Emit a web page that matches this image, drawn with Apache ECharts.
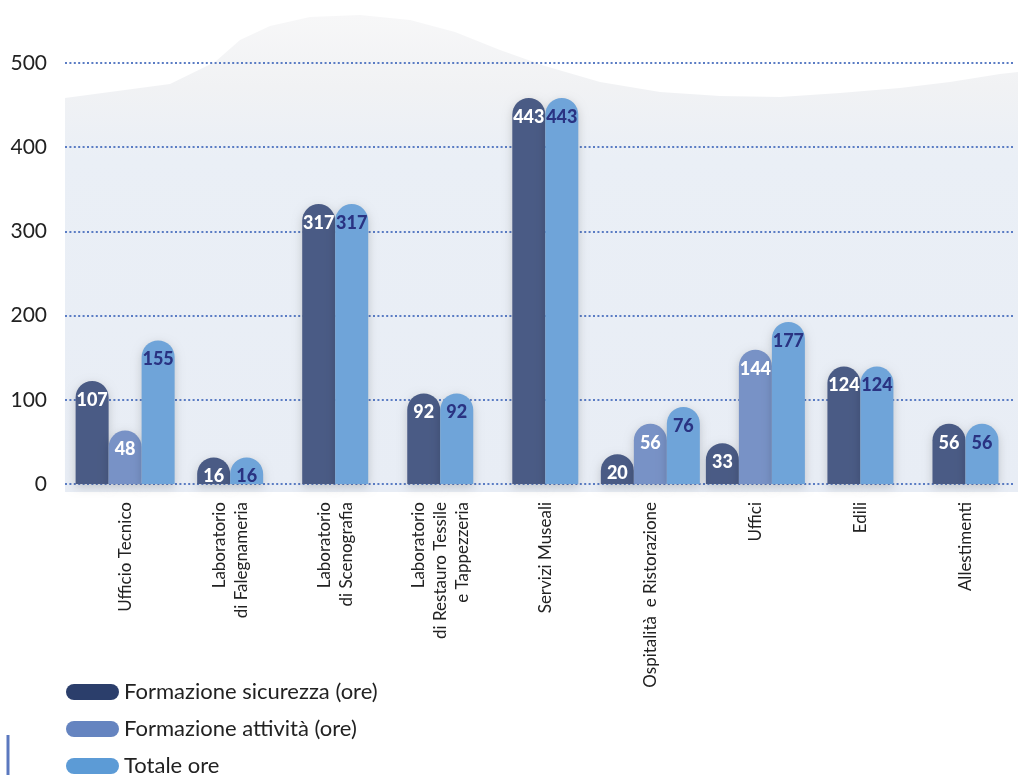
<!DOCTYPE html>
<html>
<head>
<meta charset="utf-8">
<script src="https://cdn.jsdelivr.net/npm/echarts@6/dist/echarts.min.js"></script>
<style>
  html, body { margin: 0; padding: 0; background: #fff; }
  #main { width: 1018px; height: 775px; }
</style>
</head>
<body>
<div id="main"></div>
<script>
var categories = [
  'Ufficio Tecnico',
  'Laboratorio\ndi Falegnameria',
  'Laboratorio\ndi Scenografia',
  'Laboratorio\ndi Restauro Tessile\ne Tappezzeria',
  'Servizi Museali',
  'Ospitalità  e Ristorazione',
  'Uffici',
  'Edili',
  'Allestimenti'
];
var sicurezza = [107, 16, 317, 92, 443, 20, 33, 124, 56];
var attivita = [48, null, null, null, null, 56, 144, null, null];
var totale = [155, 16, 317, 92, 443, 76, 177, 124, 56];
var yTicks = [0, 100, 200, 300, 400, 500];

var seriesNames = ['Formazione sicurezza (ore)', 'Formazione attività (ore)', 'Totale ore'];
var allValues = [sicurezza, attivita, totale];
var barColors = ['#4a5b85', '#7892c6', '#6fa4d9'];
var legendColors = ['#2b3e6b', '#6584c0', '#5c9bd6'];
var labelColors = ['#ffffff', '#ffffff', '#2a3382'];

var myChart = echarts.init(document.getElementById('main'));

// bars are drawn by hand so that groups with 2 bars stay centred
function makeRender(si) {
  return function (params, api) {
    var i = api.value(0);
    var v = api.value(1);
    var present = [];
    allValues.forEach(function (arr, k) {
      if (arr[i] != null) present.push(k);
    });
    var n = present.length;
    var pos = present.indexOf(si);
    var base = api.coord([i, 0]);
    var top = api.coord([i, v]);
    var w = 33;
    var x = base[0] - n * w / 2 + pos * w;
    var y = top[1] - 13;
    var h = base[1] - y;
    return {
      type: 'group',
      children: [{
        type: 'rect',
        shape: { x: x, y: y, width: w, height: h, r: [16.5, 16.5, 0, 0] },
        style: {
          fill: barColors[si],
          shadowBlur: 10,
          shadowColor: 'rgba(0,0,0,0.18)',
          shadowOffsetY: 3
        }
      }, {
        type: 'text',
        z2: 10,
        style: {
          text: String(v),
          x: x + w / 2,
          y: y + 19,
          align: 'center',
          verticalAlign: 'middle',
          fill: labelColors[si],
          font: '900 18px Lato'
        }
      }]
    };
  };
}

var series = seriesNames.map(function (name, si) {
  var d = [];
  allValues[si].forEach(function (v, i) {
    if (v != null) d.push([i, v]);
  });
  return {
    name: name,
    type: 'custom',
    xAxisIndex: 0,
    yAxisIndex: 0,
    itemStyle: { color: legendColors[si] },
    encode: { x: 0, y: 1 },
    renderItem: makeRender(si),
    data: d
  };
});

var pill = 'path://M8,0 L45,0 A8,8 0 0 1 45,16 L8,16 A8,8 0 0 1 8,0 Z';

var option = {
  backgroundColor: '#ffffff',
  animation: false,
  graphic: [{
    type: 'polygon',
    z: -10,
    shape: {
      points: [[65, 98], [110, 92], [170, 84], [215, 62], [240, 40], [270, 26], [310, 17],
        [360, 15], [410, 20], [455, 32], [500, 50], [545, 66], [600, 82], [660, 92],
        [720, 96], [780, 97], [840, 93], [900, 88], [950, 82], [1000, 74], [1018, 72],
        [1018, 492], [65, 492]]
    },
    style: {
      fill: new echarts.graphic.LinearGradient(0, 0, 0, 1, [
        { offset: 0, color: '#f7f7f8' },
        { offset: 0.15, color: '#f1f2f4' },
        { offset: 0.3, color: '#eaeff6' },
        { offset: 1, color: '#e8edf5' }
      ])
    }
  }, {
    type: 'line',
    shape: { x1: 8, y1: 735, x2: 8, y2: 775 },
    style: { stroke: '#5b78bf', lineWidth: 3 }
  }],
  legend: {
    orient: 'vertical',
    left: 66,
    top: 681,
    height: 120,
    padding: 0,
    itemWidth: 53,
    itemHeight: 16,
    itemGap: 15,
    icon: pill,
    textStyle: { fontFamily: 'Lato', fontSize: 22, color: '#222', lineHeight: 22 },
    data: seriesNames.map(function (n, si) {
      return { name: n, itemStyle: { color: legendColors[si] } };
    })
  },
  grid: [
    { left: 72.6, right: -15.4, top: 63, bottom: 291 },
    { left: 65, right: 3, top: 63, bottom: 291 }
  ],
  xAxis: [{
    type: 'category',
    gridIndex: 0,
    data: categories,
    axisLine: { show: false },
    axisTick: { show: false },
    splitLine: { show: false },
    axisLabel: {
      rotate: 90,
      margin: 18,
      fontFamily: 'Lato',
      fontSize: 17,
      lineHeight: 22,
      color: '#222',
      interval: 0
    }
  }, {
    type: 'value',
    gridIndex: 1,
    show: false
  }],
  yAxis: [{
    type: 'value',
    gridIndex: 0,
    min: yTicks[0],
    max: yTicks[yTicks.length - 1],
    interval: 100,
    show: false
  }, {
    type: 'value',
    gridIndex: 1,
    min: yTicks[0],
    max: yTicks[yTicks.length - 1],
    interval: 100,
    axisLine: { show: false },
    axisTick: { show: false },
    axisLabel: {
      margin: 18,
      fontFamily: 'Lato',
      fontSize: 21,
      color: '#222'
    },
    splitLine: {
      show: true,
      lineStyle: { color: '#5a7cc4', width: 2.2, type: [2, 2.4] }
    }
  }],
  series: series
};

myChart.setOption(option);
</script>
</body>
</html>
